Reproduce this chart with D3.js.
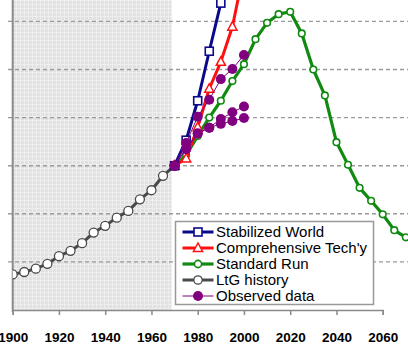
<!DOCTYPE html>
<html><head><meta charset="utf-8">
<script src="https://cdn.jsdelivr.net/npm/d3@7"></script>
<style>body{margin:0;background:#fff}svg{display:block}</style>
</head><body>
<script>
const xTicks = [1900, 1920, 1940, 1960, 1980, 2000, 2020, 2040, 2060];
const gridLevels = [1, 2, 3, 4, 5, 6];
const historyYears = [1900,1905,1910,1915,1920,1925,1930,1935,1940,1945,1950,1955,1960,1965,1970];
const historyVals = [0.74,0.79,0.86,0.96,1.12,1.23,1.39,1.61,1.75,1.92,2.06,2.30,2.49,2.79,3.00];
const standardYears = [1970,1975,1980,1985,1990,1995,2000,2005,2010,2015,2020,2025,2030,2035,2040,2045,2050,2055,2060,2065,2070];
const standardVals = [3.00,3.22,3.62,4.00,4.35,4.76,5.11,5.63,5.97,6.15,6.20,5.75,5.00,4.46,3.49,3.02,2.54,2.27,1.99,1.66,1.51];
const stabilizedYears = [1970,1975,1980,1985,1990,1995];
const stabilizedVals = [3.00,3.53,4.35,5.38,6.38,7.5];
const techYears = [1970,1975,1980,1985,1990,1995,2000];
const techVals = [3.00,3.15,3.80,4.60,5.16,5.89,7.05];
const obsYears = [1970,1975,1980,1985,1990,1995,2000];
const obsUpper = [3.00,3.47,4.02,4.37,4.80,5.01,5.30];
const obsMiddle = [3.00,3.35,3.67,3.79,3.97,4.11,4.23];
const obsLower = [3.00,3.35,3.67,3.79,3.87,3.93,3.99];
const legendLabels = ["Stabilized World","Comprehensive Tech'y","Standard Run","LtG history","Observed data"];

const W = 408, H = 345;
const svg = d3.select("body").append("svg").attr("width", W).attr("height", H);
const x = d3.scaleLinear().domain([1900, 2060]).range([12.7, 382.7]);
const y = d3.scaleLinear().domain([0, 6]).range([310, 21.4]);

const defs = svg.append("defs");
const pat = defs.append("pattern").attr("id","hatch").attr("patternUnits","userSpaceOnUse").attr("width",4).attr("height",4);
pat.append("rect").attr("width",4).attr("height",4).attr("fill","#e1e1e1");
pat.append("path").attr("d","M0,0.5H4M0.5,0V4").attr("stroke","#eeeeee").attr("stroke-width",1);
defs.append("clipPath").attr("id","clip").append("rect").attr("x",x(1900)).attr("y",0).attr("width",W).attr("height",310);

svg.append("rect").attr("x", x(1900)).attr("y", 0).attr("width", x(1970) - x(1900) - 3).attr("height", 310).attr("fill","url(#hatch)");

// gridlines
svg.append("g").selectAll("line").data(gridLevels).join("line")
  .attr("x1", 8).attr("x2", W).attr("y1", d => y(d)).attr("y2", d => y(d))
  .attr("stroke","#9a9a9a").attr("stroke-width",1.4).attr("stroke-dasharray","4,3");

// axes
const xAxis = svg.append("g").attr("transform","translate(0,310)")
  .call(d3.axisBottom(x).tickValues(xTicks).tickFormat(d3.format("d")).tickSize(5).tickPadding(17));
xAxis.select(".domain").attr("stroke","#8a8a8a").attr("stroke-width",1.5);
xAxis.selectAll(".tick line").attr("stroke","#8a8a8a").attr("stroke-width",1.5);
xAxis.selectAll("text").attr("font-family","Liberation Sans, Arial, sans-serif").attr("font-size",13.5).attr("font-weight","bold").attr("fill","#000");
svg.append("line").attr("x1",x(1900)).attr("x2",x(1900)).attr("y1",0).attr("y2",312).attr("stroke","#8a8a8a").attr("stroke-width",2);

const plot = svg.append("g").attr("clip-path","url(#clip)");
function pts(years, vals){ return years.map((yr,i)=>[yr, vals[i]]); }
const line = d3.line().x(d=>x(d[0])).y(d=>y(d[1]));

function series(data, color, width, marker){
  const g = plot.append("g");
  g.append("path").datum(data).attr("d", line).attr("fill","none").attr("stroke",color).attr("stroke-width",width).attr("stroke-linejoin","round");
  const m = g.selectAll("g.m").data(data).join("g").attr("transform", d=>`translate(${x(d[0])},${y(d[1])})`);
  marker(m, color);
}
const mCircle = (r, sw) => (m, c) => m.append("circle").attr("r", r).attr("fill","#fff").attr("stroke",c).attr("stroke-width",sw);
const mSquare = (m, c) => m.append("rect").attr("x",-4).attr("y",-4).attr("width",8).attr("height",8).attr("fill","#fff").attr("stroke",c).attr("stroke-width",1.6);
const mTri = (m, c) => m.append("path").attr("d","M0,-5L4.6,3.5L-4.6,3.5Z").attr("fill","#fff").attr("stroke",c).attr("stroke-width",1.5);
const mDot = (m, c) => m.append("circle").attr("r",5).attr("fill",c);

series(pts(historyYears, historyVals), "#4a4a4a", 3, mCircle(4.5, 1.3));
series(pts(standardYears, standardVals), "#118a11", 3.2, mCircle(3.3, 1.6));
series(pts(techYears, techVals), "#ff1010", 3, mTri);
series(pts(stabilizedYears, stabilizedVals), "#0a0a8a", 3, mSquare);
series(pts(obsYears, obsLower), "#800080", 1, mDot);
series(pts(obsYears, obsMiddle), "#800080", 1, mDot);
series(pts(obsYears, obsUpper), "#800080", 1, mDot);

// legend
const lg = svg.append("g");
lg.append("rect").attr("x",175.5).attr("y",221.5).attr("width",198).attr("height",83).attr("fill","#fff").attr("stroke","#999").attr("stroke-width",1.5);
const legendStyles = [
  {c:"#0a0a8a", w:3, mk:mSquare},
  {c:"#ff1010", w:3, mk:mTri},
  {c:"#118a11", w:3.2, mk:mCircle(3.6,1.6)},
  {c:"#4a4a4a", w:3, mk:mCircle(4.2,1.3)},
  {c:"#800080", w:1, mk:mDot}
];
const rows = lg.selectAll("g.row").data(legendLabels).join("g").attr("transform",(d,i)=>`translate(0,${232 + i*16})`);
rows.append("line").attr("x1",182.5).attr("x2",213.5).attr("y1",0).attr("y2",0)
  .attr("stroke",(d,i)=>legendStyles[i].c).attr("stroke-width",(d,i)=>legendStyles[i].w);
rows.each(function(d,i){
  const m = d3.select(this).append("g").attr("transform","translate(198,0)");
  legendStyles[i].mk(m, legendStyles[i].c);
});
rows.append("text").attr("x",216).attr("y",5.3).text(d=>d)
  .attr("font-family","Liberation Sans, Arial, sans-serif").attr("font-size",15).attr("fill","#000");
</script>
</body></html>
